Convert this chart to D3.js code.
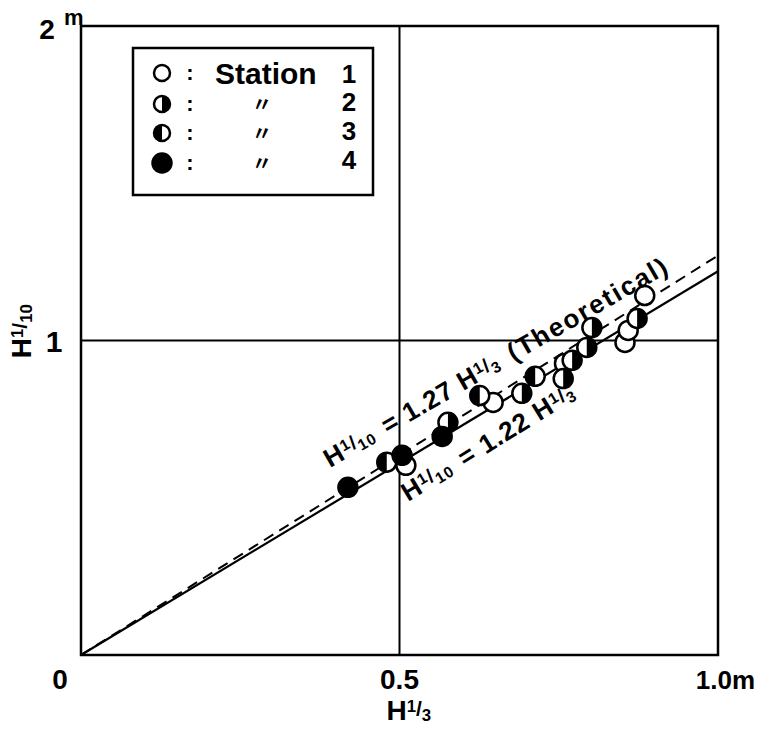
<!DOCTYPE html>
<html><head><meta charset="utf-8">
<script src="https://cdn.jsdelivr.net/npm/d3@7"></script>
<style>body{margin:0;background:#fff}svg{display:block}</style>
</head><body>
<svg id="c" width="758" height="736"></svg>
<script>
// ---- data ----
const xTickValues = [0, 0.5, 1.0];
const xTickLabels = ["0", "0.5", "1.0m"];
const yTickValues = [1, 2];
const yTickLabels = ["1", "2"];
const gridX = [0.5];
const gridY = [1];
const station1 = [[0.510,0.603],[0.647,0.803],[0.759,0.927],[0.854,0.994],[0.859,1.032],[0.885,1.143]];
const station2 = [[0.576,0.740],[0.692,0.832],[0.771,0.937],[0.757,0.879],[0.794,0.978],[0.802,1.041],[0.873,1.070]];
const station3 = [[0.480,0.613],[0.626,0.825],[0.713,0.886]];
const station4 = [[0.419,0.533],[0.504,0.635],[0.567,0.695]];
const fitCoef = 1.22;
const theoCoef = 1.27;
const legendLabels = ["Station", "〃", "〃", "〃"];
const legendNums = ["1", "2", "3", "4"];

const svg = d3.select("#c");
const FONT = "'Liberation Sans', Arial, sans-serif";
const x = d3.scaleLinear().domain([0, 1]).range([81, 718]);
const y = d3.scaleLinear().domain([0, 2]).range([655, 26]);

// grid
svg.selectAll(".gx").data(gridX).join("line")
  .attr("x1", d => x(d)).attr("x2", d => x(d)).attr("y1", y(0)).attr("y2", y(2))
  .attr("stroke", "#000").attr("stroke-width", 2);
svg.selectAll(".gy").data(gridY).join("line")
  .attr("x1", x(0)).attr("x2", x(1)).attr("y1", d => y(d)).attr("y2", d => y(d))
  .attr("stroke", "#000").attr("stroke-width", 2);

// lines
const lineGen = d3.line().x(d => x(d[0])).y(d => y(d[1]));
svg.append("path").datum([[0, 0], [1, theoCoef]]).attr("d", lineGen)
  .attr("fill", "none").attr("stroke", "#000").attr("stroke-width", 2).attr("stroke-dasharray", "11,7");
svg.append("path").datum([[0, 0], [1, fitCoef]]).attr("d", lineGen)
  .attr("fill", "none").attr("stroke", "#000").attr("stroke-width", 2.2);

// frame
svg.append("rect").attr("x", x(0)).attr("y", y(2)).attr("width", x(1) - x(0)).attr("height", y(0) - y(2))
  .attr("fill", "none").attr("stroke", "#000").attr("stroke-width", 2.5);

// markers
function marker(g, cx, cy, r, type) {
  if (type === 4) {
    g.append("circle").attr("cx", cx).attr("cy", cy).attr("r", r).attr("fill", "#000").attr("stroke", "#000").attr("stroke-width", 2.5);
    return;
  }
  g.append("circle").attr("cx", cx).attr("cy", cy).attr("r", r).attr("fill", "#fff").attr("stroke", "#000").attr("stroke-width", 2.5);
  if (type === 2) {
    g.append("path").attr("d", `M${cx},${cy - r}A${r},${r} 0 0 1 ${cx},${cy + r}Z`).attr("fill", "#000");
  } else if (type === 3) {
    g.append("path").attr("d", `M${cx},${cy - r}A${r},${r} 0 0 0 ${cx},${cy + r}Z`).attr("fill", "#000");
  }
}
const mg = svg.append("g");
[[station1, 1], [station3, 3], [station2, 2], [station4, 4]].forEach(([arr, t]) => {
  arr.forEach(d => marker(mg, x(d[0]), y(d[1]), 9.5, t));
});

// tick labels
svg.selectAll(".xt").data(xTickValues).join("text")
  .attr("x", (d, i) => i === 0 ? x(d) - 21 : (i === 2 ? 755 : x(d)))
  .attr("y", 689).attr("text-anchor", (d, i) => i === 2 ? "end" : "middle")
  .attr("font-family", FONT).attr("font-weight", "bold").attr("font-size", (d, i) => i === 2 ? 26 : 28)
  .text((d, i) => xTickLabels[i]);
svg.selectAll(".yt").data(yTickValues).join("text")
  .attr("x", d => d === 2 ? 47 : 54).attr("y", d => d === 2 ? 39 : y(d) + 11)
  .attr("text-anchor", "middle")
  .attr("font-family", FONT).attr("font-weight", "bold").attr("font-size", d => d === 2 ? 28 : 30)
  .text((d, i) => yTickLabels[i]);
svg.append("text").attr("x", 64).attr("y", 25).attr("font-family", FONT).attr("font-weight", "bold")
  .attr("font-size", 22).text("m");

// fraction helper: H + 1/n
function hFrac(t, den, fs) {
  t.append("tspan").text("H");
  t.append("tspan").attr("font-size", fs * 0.6).attr("dy", -fs * 0.28).text("1");
  t.append("tspan").attr("font-size", fs * 0.75).attr("dy", fs * 0.12).text("/");
  t.append("tspan").attr("font-size", fs * 0.6).attr("dy", fs * 0.2).text(den);
  t.append("tspan").attr("font-size", fs).attr("dy", -fs * 0.04).text("\u200A");
}

// axis titles
const xt = svg.append("text").attr("x", 410).attr("y", 720).attr("text-anchor", "middle")
  .attr("font-family", FONT).attr("font-weight", "bold").attr("font-size", 28);
hFrac(xt, "3", 28);
const yt = svg.append("text").attr("transform", "translate(31,330) rotate(-90)").attr("text-anchor", "middle")
  .attr("font-family", FONT).attr("font-weight", "bold").attr("font-size", 28);
hFrac(yt, "10", 28);

// annotations
const a1 = svg.append("text").attr("transform", "translate(330,468) rotate(-30)")
  .attr("font-family", FONT).attr("font-weight", "bold").attr("font-size", 26).attr("letter-spacing", 1);
hFrac(a1, "10", 26);
a1.append("tspan").text(" = 1.27 ");
hFrac(a1, "3", 26);
a1.append("tspan").attr("letter-spacing", 2).text(" (Theoretical)");

const a2 = svg.append("text").attr("transform", "translate(408,502) rotate(-31.5)")
  .attr("font-family", FONT).attr("font-weight", "bold").attr("font-size", 26).attr("letter-spacing", 1);
hFrac(a2, "10", 26);
a2.append("tspan").text(" = 1.22 ");
hFrac(a2, "3", 26);

// legend
const lg = svg.append("g");
lg.append("rect").attr("x", 133).attr("y", 48).attr("width", 240).attr("height", 147)
  .attr("fill", "#fff").attr("stroke", "#000").attr("stroke-width", 2.5);
const rowsY = [73, 104, 133, 163];
const numBase = [83, 111, 140, 169];
legendNums.forEach((n, i) => {
  marker(lg, 162, rowsY[i], i === 3 ? 9.5 : 8, i + 1);
  lg.append("text").attr("x", 190).attr("y", rowsY[i] + 7).attr("text-anchor", "middle")
    .attr("font-family", FONT).attr("font-weight", "bold").attr("font-size", 22).text(":");
  if (i === 0) {
    lg.append("text").attr("x", 215).attr("y", rowsY[i] + 11)
      .attr("font-family", FONT).attr("font-weight", "bold").attr("font-size", 30).text(legendLabels[i]);
  } else {
    lg.append("text").attr("x", 262).attr("y", rowsY[i] + 8).attr("text-anchor", "middle")
      .attr("font-family", "'Noto Sans CJK JP', sans-serif").attr("font-weight", "bold").attr("font-size", 20).text(legendLabels[i]);
  }
  lg.append("text").attr("x", 349).attr("y", numBase[i]).attr("text-anchor", "middle")
    .attr("font-family", FONT).attr("font-weight", "bold").attr("font-size", 26).text(n);
});
</script>
</body></html>
